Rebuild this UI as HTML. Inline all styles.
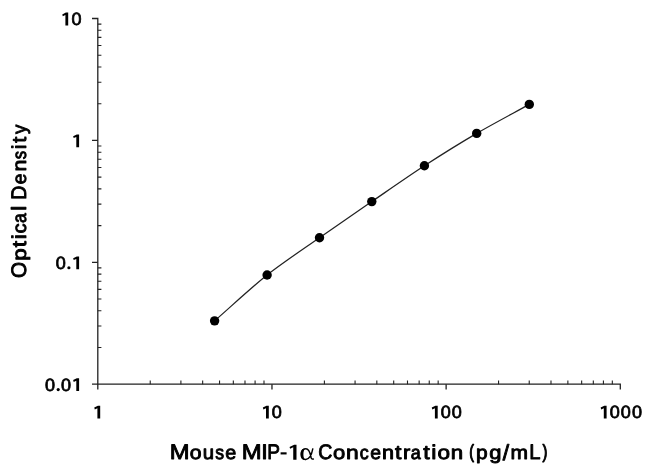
<!DOCTYPE html>
<html><head><meta charset="utf-8"><title>Mouse MIP-1 alpha standard curve</title>
<style>
html,body{margin:0;padding:0;background:#fff;}
body{width:650px;height:475px;overflow:hidden;}
svg{display:block;filter:grayscale(1) blur(0.3px);}
text{font-family:"Liberation Sans",sans-serif;font-weight:normal;fill:#000;stroke-linejoin:round;text-rendering:geometricPrecision;}
</style></head><body>
<svg width="650" height="475" viewBox="0 0 650 475">
<rect width="650" height="475" fill="#fff"/>
<path d="M92.00 18.50 H97.80 V389.50 M92.00 384.20 H620.30 V389.50" fill="none" stroke="#222" stroke-width="1.30"/>
<path d="M92.00 140.40 H97.80 M92.00 262.30 H97.80 M271.97 384.20 V389.50 M446.13 384.20 V389.50" fill="none" stroke="#222" stroke-width="1.30"/>
<path d="M97.80 347.50 h3.60 M97.80 326.04 h3.60 M97.80 310.81 h3.60 M97.80 299.00 h3.60 M97.80 289.34 h3.60 M97.80 281.18 h3.60 M97.80 274.11 h3.60 M97.80 267.88 h3.60 M97.80 225.60 h3.60 M97.80 204.14 h3.60 M97.80 188.91 h3.60 M97.80 177.10 h3.60 M97.80 167.44 h3.60 M97.80 159.28 h3.60 M97.80 152.21 h3.60 M97.80 145.98 h3.60 M97.80 103.70 h3.60 M97.80 82.24 h3.60 M97.80 67.01 h3.60 M97.80 55.20 h3.60 M97.80 45.54 h3.60 M97.80 37.38 h3.60 M97.80 30.31 h3.60 M97.80 24.08 h3.60 M150.23 384.20 v-3.60 M180.90 384.20 v-3.60 M202.66 384.20 v-3.60 M219.54 384.20 v-3.60 M233.33 384.20 v-3.60 M244.99 384.20 v-3.60 M255.09 384.20 v-3.60 M264.00 384.20 v-3.60 M324.40 384.20 v-3.60 M355.07 384.20 v-3.60 M376.83 384.20 v-3.60 M393.70 384.20 v-3.60 M407.49 384.20 v-3.60 M419.15 384.20 v-3.60 M429.25 384.20 v-3.60 M438.16 384.20 v-3.60 M498.56 384.20 v-3.60 M529.23 384.20 v-3.60 M550.99 384.20 v-3.60 M567.87 384.20 v-3.60 M581.66 384.20 v-3.60 M593.32 384.20 v-3.60 M603.42 384.20 v-3.60 M612.33 384.20 v-3.60" fill="none" stroke="#222" stroke-width="1.10"/>
<path d="M214.60 320.85 C229.60 307.75 252.11 286.88 267.10 275.00 C282.09 263.12 304.54 248.19 319.50 237.70 C334.46 227.21 356.81 211.87 371.80 201.60 C386.79 191.33 409.41 175.54 424.40 165.80 C439.39 156.06 461.71 142.17 476.70 133.40 C491.69 124.63 514.27 112.69 529.30 104.40" fill="none" stroke="#222" stroke-width="1.25"/>
<circle cx="214.60" cy="320.85" r="4.7" fill="#000"/>
<circle cx="267.10" cy="275.00" r="4.7" fill="#000"/>
<circle cx="319.50" cy="237.70" r="4.7" fill="#000"/>
<circle cx="371.80" cy="201.60" r="4.7" fill="#000"/>
<circle cx="424.40" cy="165.80" r="4.7" fill="#000"/>
<circle cx="476.70" cy="133.40" r="4.7" fill="#000"/>
<circle cx="529.30" cy="104.40" r="4.7" fill="#000"/>
<g font-size="17.8" letter-spacing="1.05" stroke="#000" stroke-width="0.75">
<path transform="translate(62.30,25.50) scale(1.000,1.000)" d="M5.9,0 L5.9,-12.9 L3.6,-12.9 L-0.05,-11.1 L0.5,-9.2 L3.1,-10.4 L3.1,0 Z" fill="#000" stroke="none"/>
<text transform="translate(71.62,25.35) scale(1.015,1)">0</text>
<path transform="translate(73.20,147.30) scale(1.000,1.000)" d="M5.9,0 L5.9,-12.9 L3.6,-12.9 L-0.05,-11.1 L0.5,-9.2 L3.1,-10.4 L3.1,0 Z" fill="#000" stroke="none"/>
<text transform="translate(55.82,269.15) scale(1.015,1)">0</text>
<circle cx="68.90" cy="267.75" r="1.6" fill="#000" stroke="none"/>
<path transform="translate(73.20,269.30) scale(1.000,1.000)" d="M5.9,0 L5.9,-12.9 L3.6,-12.9 L-0.05,-11.1 L0.5,-9.2 L3.1,-10.4 L3.1,0 Z" fill="#000" stroke="none"/>
<text transform="translate(45.02,390.95) scale(1.015,1)">0</text>
<circle cx="58.20" cy="389.55" r="1.6" fill="#000" stroke="none"/>
<text transform="translate(61.12,390.95) scale(1.015,1)">0</text>
<path transform="translate(73.20,391.10) scale(1.000,1.000)" d="M5.9,0 L5.9,-12.9 L3.6,-12.9 L-0.05,-11.1 L0.5,-9.2 L3.1,-10.4 L3.1,0 Z" fill="#000" stroke="none"/>
<path transform="translate(94.30,418.60) scale(1.000,1.000)" d="M5.9,0 L5.9,-12.9 L3.6,-12.9 L-0.05,-11.1 L0.5,-9.2 L3.1,-10.4 L3.1,0 Z" fill="#000" stroke="none"/>
<path transform="translate(262.90,418.60) scale(1.000,1.000)" d="M5.9,0 L5.9,-12.9 L3.6,-12.9 L-0.05,-11.1 L0.5,-9.2 L3.1,-10.4 L3.1,0 Z" fill="#000" stroke="none"/>
<text transform="translate(271.87,418.45) scale(1.015,1)">0</text>
<path transform="translate(431.80,418.60) scale(1.000,1.000)" d="M5.9,0 L5.9,-12.9 L3.6,-12.9 L-0.05,-11.1 L0.5,-9.2 L3.1,-10.4 L3.1,0 Z" fill="#000" stroke="none"/>
<text transform="translate(440.77,418.45) scale(1.015,1)">00</text>
<path transform="translate(600.70,418.60) scale(1.000,1.000)" d="M5.9,0 L5.9,-12.9 L3.6,-12.9 L-0.05,-11.1 L0.5,-9.2 L3.1,-10.4 L3.1,0 Z" fill="#000" stroke="none"/>
<text transform="translate(609.67,418.45) scale(1.015,1)">000</text>
</g>
<g font-size="20.5" stroke="#000" stroke-width="0.9">
<text font-size="21" transform="translate(169.66,459.30) scale(1.131,1)">M</text>
<text font-size="19.3" transform="translate(189.80,459.30) scale(1.099,1)">o</text>
<text font-size="19.3" transform="translate(202.85,459.30) scale(1.055,1)">u</text>
<text font-size="19.3" transform="translate(215.31,459.30) scale(0.914,1)">s</text>
<text font-size="19.3" transform="translate(225.22,459.30) scale(1.024,1)">e</text>
<text font-size="21" transform="translate(241.75,459.30) scale(1.137,1)">M</text>
<text font-size="21" transform="translate(261.13,459.30) scale(1.119,1)">I</text>
<text font-size="21" transform="translate(267.27,459.30) scale(0.907,1)">P</text>
<rect x="280.6" y="452.3" width="6.0" height="2.15" fill="#000" stroke="none"/>
<text font-size="21" transform="translate(318.33,459.30) scale(0.930,1)">C</text>
<text font-size="19.3" transform="translate(332.99,459.30) scale(1.139,1)">o</text>
<text font-size="19.3" transform="translate(346.03,459.30) scale(1.183,1)">n</text>
<text font-size="19.3" transform="translate(359.72,459.30) scale(0.930,1)">c</text>
<text font-size="19.3" transform="translate(370.33,459.30) scale(1.004,1)">e</text>
<text font-size="19.3" transform="translate(382.07,459.30) scale(1.121,1)">n</text>
<text font-size="19.8" transform="translate(394.98,459.30) scale(1.175,1)">t</text>
<text font-size="19.3" transform="translate(403.06,459.30) scale(1.135,1)">r</text>
<text font-size="19.3" transform="translate(410.78,459.30) scale(0.930,1)">a</text>
<text font-size="19.8" transform="translate(423.30,459.30) scale(1.183,1)">t</text>
<text font-size="20" transform="translate(431.36,459.30) scale(1.166,1)">i</text>
<text font-size="19.3" transform="translate(437.48,459.30) scale(1.168,1)">o</text>
<text font-size="19.3" transform="translate(450.64,459.30) scale(1.154,1)">n</text>
<text font-size="19.3" transform="translate(475.94,459.30) scale(1.086,1)">p</text>
<text font-size="19.3" transform="translate(489.29,459.30) scale(1.138,1)">g</text>
<text font-size="21.9" transform="translate(502.77,460.00) scale(1.045,1)">/</text>
<text font-size="19.3" transform="translate(510.49,459.30) scale(1.089,1)">m</text>
<text font-size="21" transform="translate(529.37,459.30) scale(0.965,1)">L</text>
<text font-size="21" transform="translate(25.80,278.04) rotate(-90) scale(0.985,1)">O</text>
<text font-size="19.3" transform="translate(25.80,260.81) rotate(-90) scale(1.156,1)">p</text>
<text font-size="19.8" transform="translate(25.80,247.33) rotate(-90) scale(1.142,1)">t</text>
<text font-size="20" transform="translate(25.80,239.21) rotate(-90) scale(1.156,1)">i</text>
<text font-size="19.3" transform="translate(25.80,233.18) rotate(-90) scale(1.019,1)">c</text>
<text font-size="19.3" transform="translate(25.80,222.95) rotate(-90) scale(0.908,1)">a</text>
<text font-size="20.7" transform="translate(25.80,210.84) rotate(-90) scale(1.103,1)">l</text>
<text font-size="21" transform="translate(25.80,199.78) rotate(-90) scale(0.930,1)">D</text>
<text font-size="19.3" transform="translate(25.80,184.27) rotate(-90) scale(0.999,1)">e</text>
<text font-size="19.3" transform="translate(25.80,171.54) rotate(-90) scale(1.099,1)">n</text>
<text font-size="19.3" transform="translate(25.80,159.30) rotate(-90) scale(0.864,1)">s</text>
<text font-size="20" transform="translate(25.80,149.30) rotate(-90) scale(1.072,1)">i</text>
<text font-size="19.8" transform="translate(25.80,142.81) rotate(-90) scale(1.099,1)">t</text>
<text font-size="19.3" transform="translate(25.80,134.11) rotate(-90) scale(0.965,1)">y</text>
</g>
<g stroke="#000" stroke-width="1.1">
<text font-size="19" transform="translate(469.23,457.90) scale(0.749,1)">(</text>
<text font-size="19" transform="translate(542.54,457.90) scale(0.766,1)">)</text>
</g>
<path transform="translate(289.60,459.75) scale(1.170,1.165)" d="M5.9,0 L5.9,-12.9 L3.9,-12.9 L-0.05,-10.9 L0.45,-9.4 L3.1,-10.7 L3.1,0 Z" fill="#000" stroke="none"/>
<g transform="translate(300.2,460.05)">
<path d="M12.7,-11.7 C11.7,-6.5 9.4,-0.6 5.5,-0.6 C2.6,-0.6 1.4,-3.2 1.4,-5.9 C1.4,-8.9 2.8,-11.2 5.7,-11.2 C9.4,-11.2 10.2,-5.5 10.9,-2.6 C11.3,-1.1 12.2,-0.5 13.6,-1.3" fill="none" stroke="#000" stroke-width="1.45"/>
<path d="M5.5,0.1 C1.6,0.1 0.2,-2.9 0.2,-5.9 C0.2,-9.1 1.8,-11.9 5.7,-11.9 C3.9,-11.2 3.2,-8.7 3.2,-5.9 C3.2,-3.2 3.8,-0.7 5.5,0.1 Z" fill="#000" stroke="none"/>
</g>

</svg>
</body></html>
